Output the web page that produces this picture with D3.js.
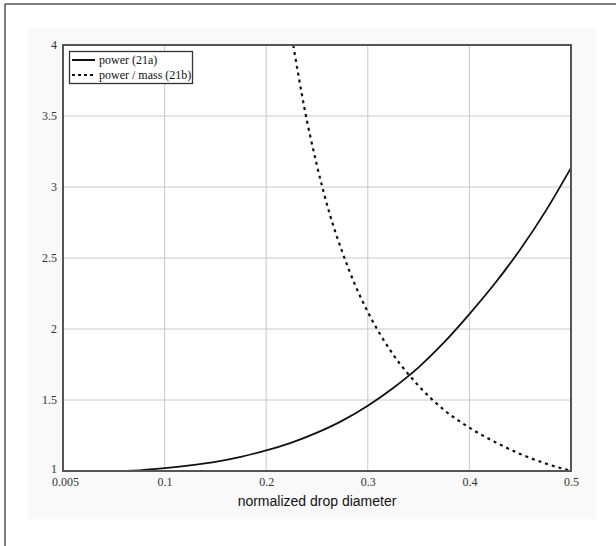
<!DOCTYPE html>
<html>
<head>
<meta charset="utf-8">
<script src="https://cdn.jsdelivr.net/npm/d3@7"></script>
<style>
  body { margin: 0; background: #fff; }
  .tick text { font-family: "Liberation Serif", "Times New Roman", serif; font-size: 12px; fill: #333; }
  .legend text { font-family: "Liberation Serif", "Times New Roman", serif; font-size: 12px; fill: #111; }
  .axis-label { font-family: "Liberation Sans", Arial, sans-serif; font-size: 14px; fill: #111; }
</style>
</head>
<body>
<svg id="chart" width="616" height="546"></svg>
<script>
// normalized drop diameter vs. power (21a)
var powerD = [0.005, 0.05, 0.075, 0.1, 0.125, 0.15, 0.175, 0.2, 0.225, 0.25, 0.275, 0.3, 0.325, 0.35, 0.375, 0.4, 0.425, 0.45, 0.475, 0.5];
var powerV = [1.0, 1.0, 1.005, 1.02, 1.04, 1.065, 1.1, 1.145, 1.2, 1.27, 1.355, 1.46, 1.585, 1.73, 1.905, 2.105, 2.32, 2.56, 2.83, 3.135];

// power / mass (21b), only the part that is inside the y range
var massD = [0.2266, 0.2375, 0.25, 0.2625, 0.275, 0.2875, 0.3, 0.325, 0.35, 0.375, 0.4, 0.425, 0.45, 0.475, 0.5];
var massV = [4.0, 3.56, 3.15, 2.81, 2.54, 2.31, 2.12, 1.82, 1.6, 1.43, 1.305, 1.205, 1.12, 1.053, 1.0];

var xTicks = [0.005, 0.1, 0.2, 0.3, 0.4, 0.5];
var xGrid = [0.1, 0.2, 0.3, 0.4];
var yTicks = [1, 1.5, 2, 2.5, 3, 3.5, 4];

var svg = d3.select("#chart");

// frame of the figure
svg.append("rect").attr("x", 28).attr("y", 28).attr("width", 568).attr("height", 491).attr("fill", "#f9f9f9");
svg.append("line").attr("x1", 5).attr("x2", 5).attr("y1", 4).attr("y2", 546).attr("stroke", "#555").attr("stroke-width", 1.5);
svg.append("line").attr("x1", 5).attr("x2", 616).attr("y1", 4).attr("y2", 4).attr("stroke", "#555").attr("stroke-width", 1.5);

var plotL = 63, plotR = 571, plotT = 45, plotB = 471;

var xScale = d3.scaleLinear().domain([0, 0.5]).range([plotL, plotR]);
var yScale = d3.scaleLinear().domain([1, 4]).range([plotB, plotT]);

var g = svg.append("g");

g.append("rect").attr("x", plotL).attr("y", plotT).attr("width", plotR - plotL).attr("height", plotB - plotT).attr("fill", "#fff");

// grid
g.selectAll(".vgrid").data(xGrid).enter().append("line")
  .attr("x1", d => xScale(d)).attr("x2", d => xScale(d))
  .attr("y1", plotT).attr("y2", plotB)
  .attr("stroke", "#c8c8c8").attr("stroke-width", 1);
g.selectAll(".hgrid").data(yTicks.slice(1, -1)).enter().append("line")
  .attr("x1", plotL).attr("x2", plotR)
  .attr("y1", d => yScale(d)).attr("y2", d => yScale(d))
  .attr("stroke", "#c8c8c8").attr("stroke-width", 1);

// axes
var xAxis = d3.axisBottom(xScale).tickValues(xTicks).tickSize(0).tickPadding(6)
  .tickFormat(d => d == 0.005 ? "0.005" : d3.format("")(d));
var yAxis = d3.axisLeft(yScale).tickValues(yTicks).tickSize(0).tickPadding(6)
  .tickFormat(d3.format(""));

var xg = g.append("g").attr("transform", `translate(0,${plotB})`).call(xAxis);
xg.select(".domain").remove();
xg.selectAll(".tick").filter(d => d == 0.005).select("text").attr("x", -3);
var yg = g.append("g").attr("transform", `translate(${plotL},0)`).call(yAxis);
yg.select(".domain").remove();
yg.selectAll(".tick").filter(d => d == 1).select("text").attr("dy", "0.1em");

// curves
var line = d3.line().curve(d3.curveMonotoneX)
  .x(d => xScale(d[0])).y(d => yScale(d[1]));

g.append("path").datum(d3.zip(powerD, powerV))
  .attr("d", line).attr("fill", "none")
  .attr("stroke", "#111").attr("stroke-width", 1.8);

g.append("path").datum(d3.zip(massD, massV))
  .attr("d", line).attr("fill", "none")
  .attr("stroke", "#111").attr("stroke-width", 2.2)
  .attr("stroke-dasharray", "3,4");

// plot frame
g.append("rect").attr("x", plotL).attr("y", plotT).attr("width", plotR - plotL).attr("height", plotB - plotT)
  .attr("fill", "none").attr("stroke", "#555").attr("stroke-width", 2);

// legend
var legend = g.append("g").attr("class", "legend");
legend.append("rect").attr("x", 69.5).attr("y", 51.5).attr("width", 123).attr("height", 32)
  .attr("fill", "#fff").attr("stroke", "#333").attr("stroke-width", 1.3);
var items = [["power (21a)", null], ["power / mass (21b)", "3,3"]];
items.forEach(function(it, i) {
  var y = 60 + i * 15;
  legend.append("line").attr("x1", 72).attr("x2", 95).attr("y1", y).attr("y2", y)
    .attr("stroke", "#111").attr("stroke-width", 2)
    .attr("stroke-dasharray", it[1]);
  legend.append("text").attr("x", 99).attr("y", y + 4).text(it[0]);
});

// axis title
g.append("text").attr("class", "axis-label")
  .attr("x", (plotL + plotR) / 2).attr("y", 506)
  .attr("text-anchor", "middle").text("normalized drop diameter");
</script>
</body>
</html>
